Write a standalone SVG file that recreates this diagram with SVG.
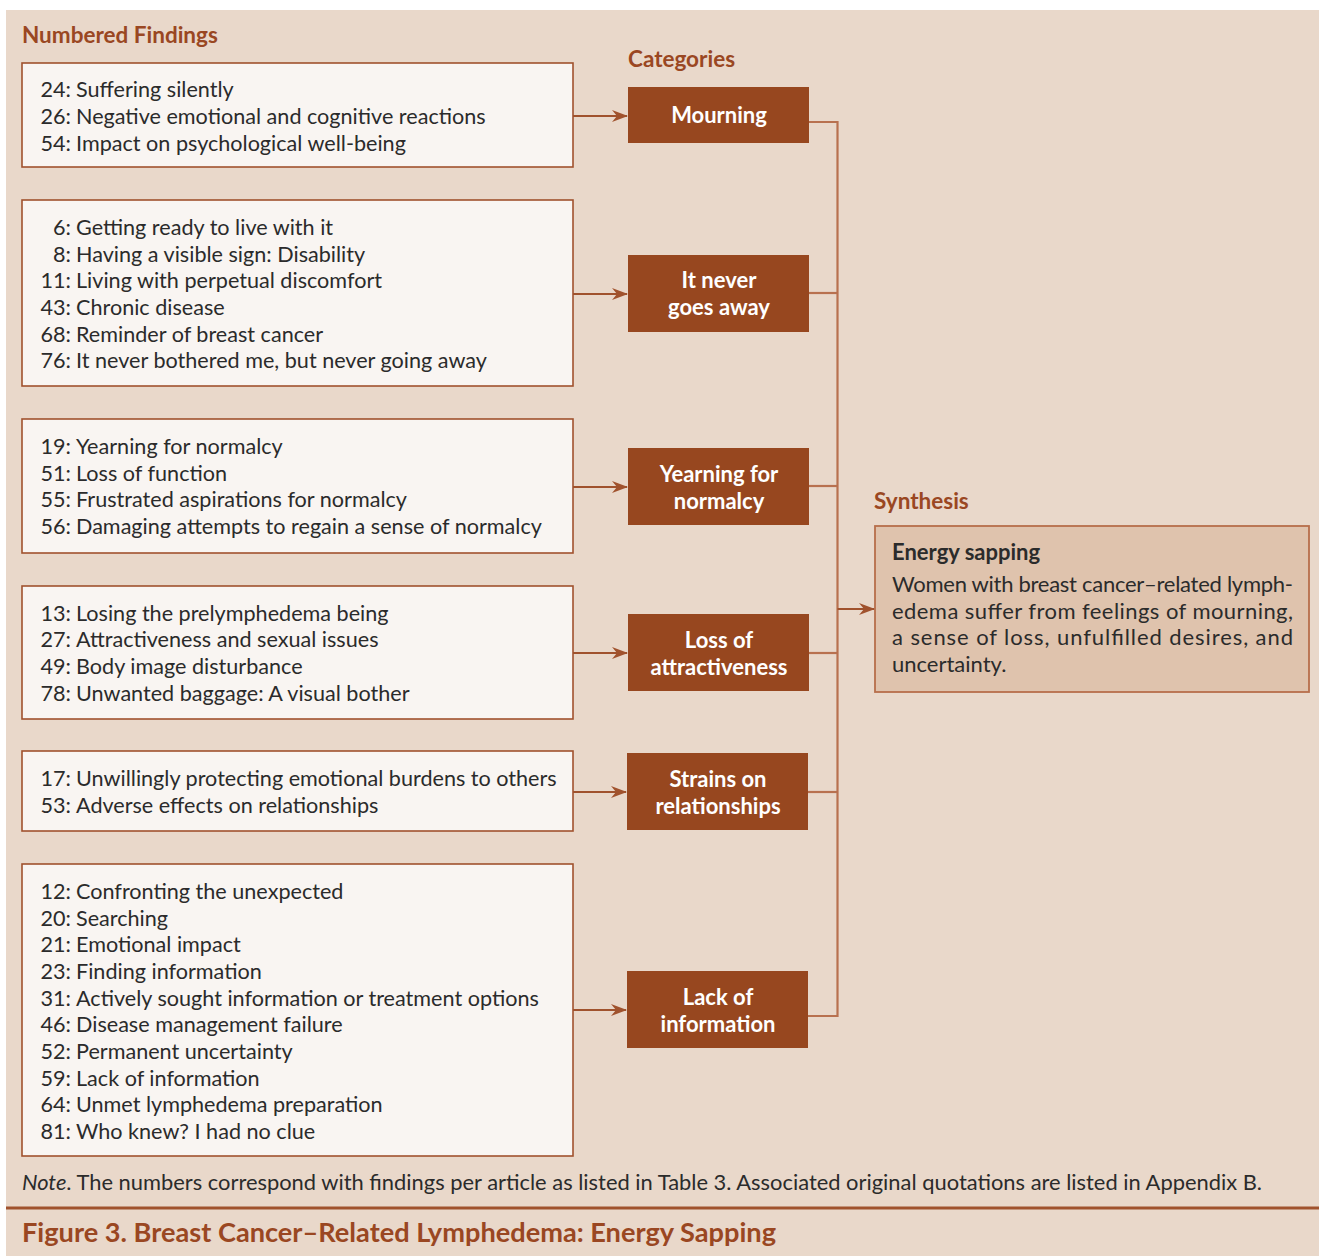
<svg xmlns="http://www.w3.org/2000/svg" width="1319" height="1256" viewBox="0 0 1319 1256">
<style>
.hdr{font-family:Lato,"Open Sans",sans-serif;font-weight:bold;font-size:22.5px;fill:#9A4722}
.find{fill:#F9F5F2;stroke:#A0522D;stroke-width:1.6}
.ft{font-family:Lato,"Open Sans",sans-serif;font-size:21.6px;fill:#2B2B2B}
.cat{fill:#97471F}
.ct{font-family:Lato,"Open Sans",sans-serif;font-weight:bold;font-size:22px;fill:#FFFFFF;text-anchor:middle}
.arr{stroke:#A0522D;stroke-width:2;fill:none}
.con{stroke:#B8714F;stroke-width:2.2;fill:none}
.syn{fill:#DFC3AD;stroke:#B76E4B;stroke-width:1.8}
.st{font-family:Lato,"Open Sans",sans-serif;font-size:22px;fill:#2B2B2B}
</style>
<defs>
<marker id="ah" markerWidth="16" markerHeight="12" refX="15" refY="6" orient="auto" markerUnits="userSpaceOnUse">
<path d="M0,0 L16,6 L0,12 L5,6 Z" fill="#A0522D"/>
</marker>
</defs>
<rect x="0" y="0" width="1319" height="1256" fill="#FFFFFF"/>
<rect x="6" y="10" width="1313" height="1246" fill="#E9D8CA"/>

<text class="hdr" x="22" y="43">Numbered Findings</text>
<text class="hdr" x="628" y="67">Categories</text>
<text class="hdr" x="874" y="509">Synthesis</text>

<g id="f1">
<rect class="find" x="22" y="63" width="551" height="104"/>
<text class="ft"><tspan x="71" y="97" text-anchor="end">24:</tspan><tspan x="76">Suffering silently</tspan></text>
<text class="ft"><tspan x="71" y="124" text-anchor="end">26:</tspan><tspan x="76">Negative emotional and cognitive reactions</tspan></text>
<text class="ft"><tspan x="71" y="151" text-anchor="end">54:</tspan><tspan x="76">Impact on psychological well-being</tspan></text>
</g>
<g id="f2">
<rect class="find" x="22" y="200" width="551" height="186"/>
<text class="ft"><tspan x="71" y="235" text-anchor="end">6:</tspan><tspan x="76">Getting ready to live with it</tspan></text>
<text class="ft"><tspan x="71" y="262" text-anchor="end">8:</tspan><tspan x="76">Having a visible sign: Disability</tspan></text>
<text class="ft"><tspan x="71" y="288" text-anchor="end">11:</tspan><tspan x="76">Living with perpetual discomfort</tspan></text>
<text class="ft"><tspan x="71" y="315" text-anchor="end">43:</tspan><tspan x="76">Chronic disease</tspan></text>
<text class="ft"><tspan x="71" y="342" text-anchor="end">68:</tspan><tspan x="76">Reminder of breast cancer</tspan></text>
<text class="ft"><tspan x="71" y="368" text-anchor="end">76:</tspan><tspan x="76">It never bothered me, but never going away</tspan></text>
</g>
<g id="f3">
<rect class="find" x="22" y="419" width="551" height="134"/>
<text class="ft"><tspan x="71" y="454" text-anchor="end">19:</tspan><tspan x="76">Yearning for normalcy</tspan></text>
<text class="ft"><tspan x="71" y="481" text-anchor="end">51:</tspan><tspan x="76">Loss of function</tspan></text>
<text class="ft"><tspan x="71" y="507" text-anchor="end">55:</tspan><tspan x="76">Frustrated aspirations for normalcy</tspan></text>
<text class="ft"><tspan x="71" y="534" text-anchor="end">56:</tspan><tspan x="76">Damaging attempts to regain a sense of normalcy</tspan></text>
</g>
<g id="f4">
<rect class="find" x="22" y="586" width="551" height="133"/>
<text class="ft"><tspan x="71" y="621" text-anchor="end">13:</tspan><tspan x="76">Losing the prelymphedema being</tspan></text>
<text class="ft"><tspan x="71" y="647" text-anchor="end">27:</tspan><tspan x="76">Attractiveness and sexual issues</tspan></text>
<text class="ft"><tspan x="71" y="674" text-anchor="end">49:</tspan><tspan x="76">Body image disturbance</tspan></text>
<text class="ft"><tspan x="71" y="701" text-anchor="end">78:</tspan><tspan x="76">Unwanted baggage: A visual bother</tspan></text>
</g>
<g id="f5">
<rect class="find" x="22" y="751" width="551" height="80"/>
<text class="ft"><tspan x="71" y="786" text-anchor="end">17:</tspan><tspan x="76">Unwillingly protecting emotional burdens to others</tspan></text>
<text class="ft"><tspan x="71" y="813" text-anchor="end">53:</tspan><tspan x="76">Adverse effects on relationships</tspan></text>
</g>
<g id="f6">
<rect class="find" x="22" y="864" width="551" height="292"/>
<text class="ft"><tspan x="71" y="899" text-anchor="end">12:</tspan><tspan x="76">Confronting the unexpected</tspan></text>
<text class="ft"><tspan x="71" y="926" text-anchor="end">20:</tspan><tspan x="76">Searching</tspan></text>
<text class="ft"><tspan x="71" y="952" text-anchor="end">21:</tspan><tspan x="76">Emotional impact</tspan></text>
<text class="ft"><tspan x="71" y="979" text-anchor="end">23:</tspan><tspan x="76">Finding information</tspan></text>
<text class="ft"><tspan x="71" y="1006" text-anchor="end">31:</tspan><tspan x="76">Actively sought information or treatment options</tspan></text>
<text class="ft"><tspan x="71" y="1032" text-anchor="end">46:</tspan><tspan x="76">Disease management failure</tspan></text>
<text class="ft"><tspan x="71" y="1059" text-anchor="end">52:</tspan><tspan x="76">Permanent uncertainty</tspan></text>
<text class="ft"><tspan x="71" y="1086" text-anchor="end">59:</tspan><tspan x="76">Lack of information</tspan></text>
<text class="ft"><tspan x="71" y="1112" text-anchor="end">64:</tspan><tspan x="76">Unmet lymphedema preparation</tspan></text>
<text class="ft"><tspan x="71" y="1139" text-anchor="end">81:</tspan><tspan x="76">Who knew? I had no clue</tspan></text>
</g>

<g id="c1"><rect class="cat" x="628" y="87" width="181" height="56"/><text class="ct" x="719" y="123">Mourning</text></g>
<g id="c2"><rect class="cat" x="628" y="255" width="181" height="77"/><text class="ct" x="719" y="288">It never</text><text class="ct" x="719" y="315">goes away</text></g>
<g id="c3"><rect class="cat" x="628" y="448" width="181" height="77"/><text class="ct" x="719" y="482">Yearning for</text><text class="ct" x="719" y="509">normalcy</text></g>
<g id="c4"><rect class="cat" x="628" y="614" width="181" height="77"/><text class="ct" x="719" y="648">Loss of</text><text class="ct" x="719" y="675">attractiveness</text></g>
<g id="c5"><rect class="cat" x="627" y="753" width="181" height="77"/><text class="ct" x="718" y="787">Strains on</text><text class="ct" x="718" y="814">relationships</text></g>
<g id="c6"><rect class="cat" x="627" y="971" width="181" height="77"/><text class="ct" x="718" y="1005">Lack of</text><text class="ct" x="718" y="1032">information</text></g>

<g id="synthesis">
<rect class="syn" x="875" y="526" width="434" height="166"/>
<text x="892" y="560" font-family="Lato,'Open Sans',sans-serif" font-weight="bold" font-size="22" fill="#2B2B2B">Energy sapping</text>
<text class="st" x="892" y="592" textLength="401" lengthAdjust="spacing">Women with breast cancer–related lymph-</text>
<text class="st" x="892" y="619" textLength="401" lengthAdjust="spacing">edema suffer from feelings of mourning,</text>
<text class="st" x="892" y="645" textLength="401" lengthAdjust="spacing">a sense of loss, unfulfilled desires, and</text>
<text class="st" x="892" y="672">uncertainty.</text>
</g>

<g id="connectors">
<line class="arr" x1="573" y1="116" x2="627" y2="116" marker-end="url(#ah)"/>
<line class="arr" x1="573" y1="294" x2="627" y2="294" marker-end="url(#ah)"/>
<line class="arr" x1="573" y1="487" x2="627" y2="487" marker-end="url(#ah)"/>
<line class="arr" x1="573" y1="653" x2="627" y2="653" marker-end="url(#ah)"/>
<line class="arr" x1="573" y1="792" x2="626" y2="792" marker-end="url(#ah)"/>
<line class="arr" x1="573" y1="1010" x2="626" y2="1010" marker-end="url(#ah)"/>
<path class="con" d="M809,122 H837.5 V1016 H808"/>
<line class="con" x1="809" y1="293" x2="837.5" y2="293"/>
<line class="con" x1="809" y1="486" x2="837.5" y2="486"/>
<line class="con" x1="809" y1="653" x2="837.5" y2="653"/>
<line class="con" x1="808" y1="792" x2="837.5" y2="792"/>
<line class="arr" x1="837.5" y1="609" x2="874" y2="609" marker-end="url(#ah)"/>
</g>

<text x="22" y="1190" font-family="Lato,'Open Sans',sans-serif" font-size="21" fill="#2B2B2B" textLength="1240" lengthAdjust="spacingAndGlyphs"><tspan font-style="italic">Note</tspan>. The numbers correspond with findings per article as listed in Table 3. Associated original quotations are listed in Appendix B.</text>
<line x1="6" y1="1208" x2="1319" y2="1208" stroke="#A0522D" stroke-width="3"/>
<text x="22" y="1242" font-family="Lato,'Open Sans',sans-serif" font-weight="bold" font-size="27" fill="#9A4722" textLength="754" lengthAdjust="spacingAndGlyphs">Figure 3. Breast Cancer–Related Lymphedema: Energy Sapping</text>
</svg>
